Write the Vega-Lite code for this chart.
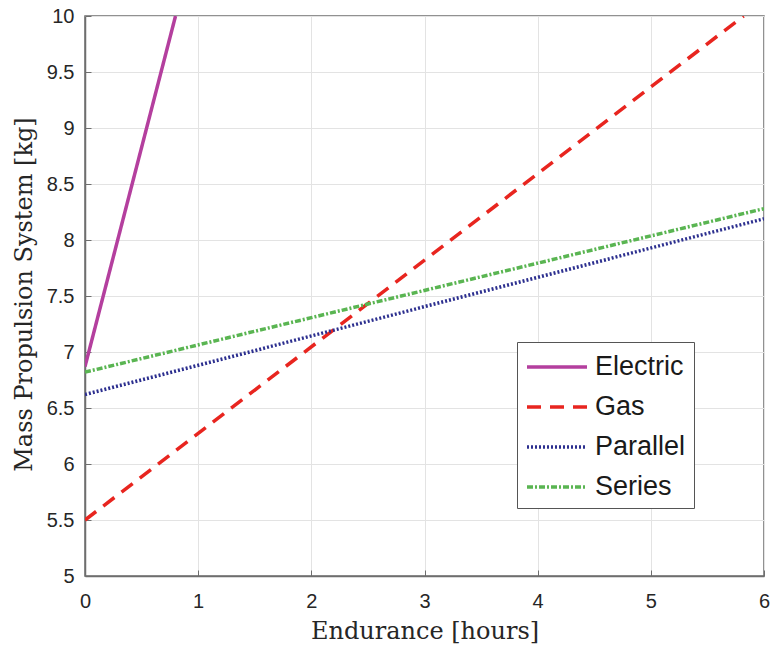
{
  "$schema": "https://vega.github.io/schema/vega-lite/v6.json",
  "width": 679,
  "height": 560,
  "autosize": "none",
  "padding": {"left": 85, "top": 16, "right": 8, "bottom": 73},
  "background": "white",
  "config": {
    "view": {"stroke": "#6e6e6e", "strokeWidth": 1.5},
    "axis": {
      "labelFont": "Liberation Sans",
      "labelFontSize": 20,
      "labelColor": "#262626",
      "labelFlush": false,
      "titleFont": "DejaVu Serif",
      "titleFontSize": 24,
      "titleFontWeight": "normal",
      "titleColor": "#262626",
      "domainColor": "#6e6e6e",
      "domainWidth": 1.5,
      "tickColor": "#6e6e6e",
      "tickSize": -6,
      "gridColor": "#e3e3e3",
      "gridWidth": 1
    }
  },
  "data": {
    "values": [
      {"endurance": 0, "mass": 6.87, "type": "Electric"},
      {"endurance": 0.8, "mass": 10.0, "type": "Electric"},
      {"endurance": 0, "mass": 5.5, "type": "Gas"},
      {"endurance": 5.82, "mass": 10.0, "type": "Gas"},
      {"endurance": 0, "mass": 6.62, "type": "Parallel"},
      {"endurance": 6, "mass": 8.19, "type": "Parallel"},
      {"endurance": 0, "mass": 6.82, "type": "Series"},
      {"endurance": 6, "mass": 8.28, "type": "Series"}
    ]
  },
  "mark": {"type": "line", "strokeWidth": 3.5, "clip": true},
  "encoding": {
    "x": {
      "field": "endurance",
      "type": "quantitative",
      "scale": {"domain": [0, 6], "nice": false},
      "axis": {"values": [0, 1, 2, 3, 4, 5, 6], "title": "Endurance [hours]", "labelPadding": 21, "titlePadding": 8}
    },
    "y": {
      "field": "mass",
      "type": "quantitative",
      "scale": {"domain": [5, 10], "nice": false, "zero": false},
      "axis": {"values": [5, 5.5, 6, 6.5, 7, 7.5, 8, 8.5, 9, 9.5, 10], "format": ".1~f", "title": "Mass Propulsion System [kg]", "labelPadding": 17, "titleX": -54, "titleY": 278, "titleAngle": -90, "titleBaseline": "alphabetic"}
    },
    "color": {
      "field": "type",
      "type": "nominal",
      "scale": {"domain": ["Electric", "Gas", "Parallel", "Series"], "range": ["#b43f9e", "#e8251f", "#2c2f8f", "#5ab552"]},
      "legend": {
        "title": null,
        "orient": "none",
        "legendX": 432,
        "legendY": 326,
        "symbolType": "M-1,0H3",
        "symbolSize": 900,
        "symbolStrokeWidth": 3.5,
        "labelFont": "Liberation Sans",
        "labelFontSize": 27,
        "labelColor": "#1a1a1a",
        "labelOffset": 36,
        "padding": 8,
        "rowPadding": 10,
        "strokeColor": "#555555",
        "fillColor": "white"
      }
    },
    "strokeDash": {
      "field": "type",
      "type": "nominal",
      "scale": {"domain": ["Electric", "Gas", "Parallel", "Series"], "range": [[1, 0], [14, 9], [2, 2], [6, 2, 2, 2]]},
      "legend": null
    }
  }
}
